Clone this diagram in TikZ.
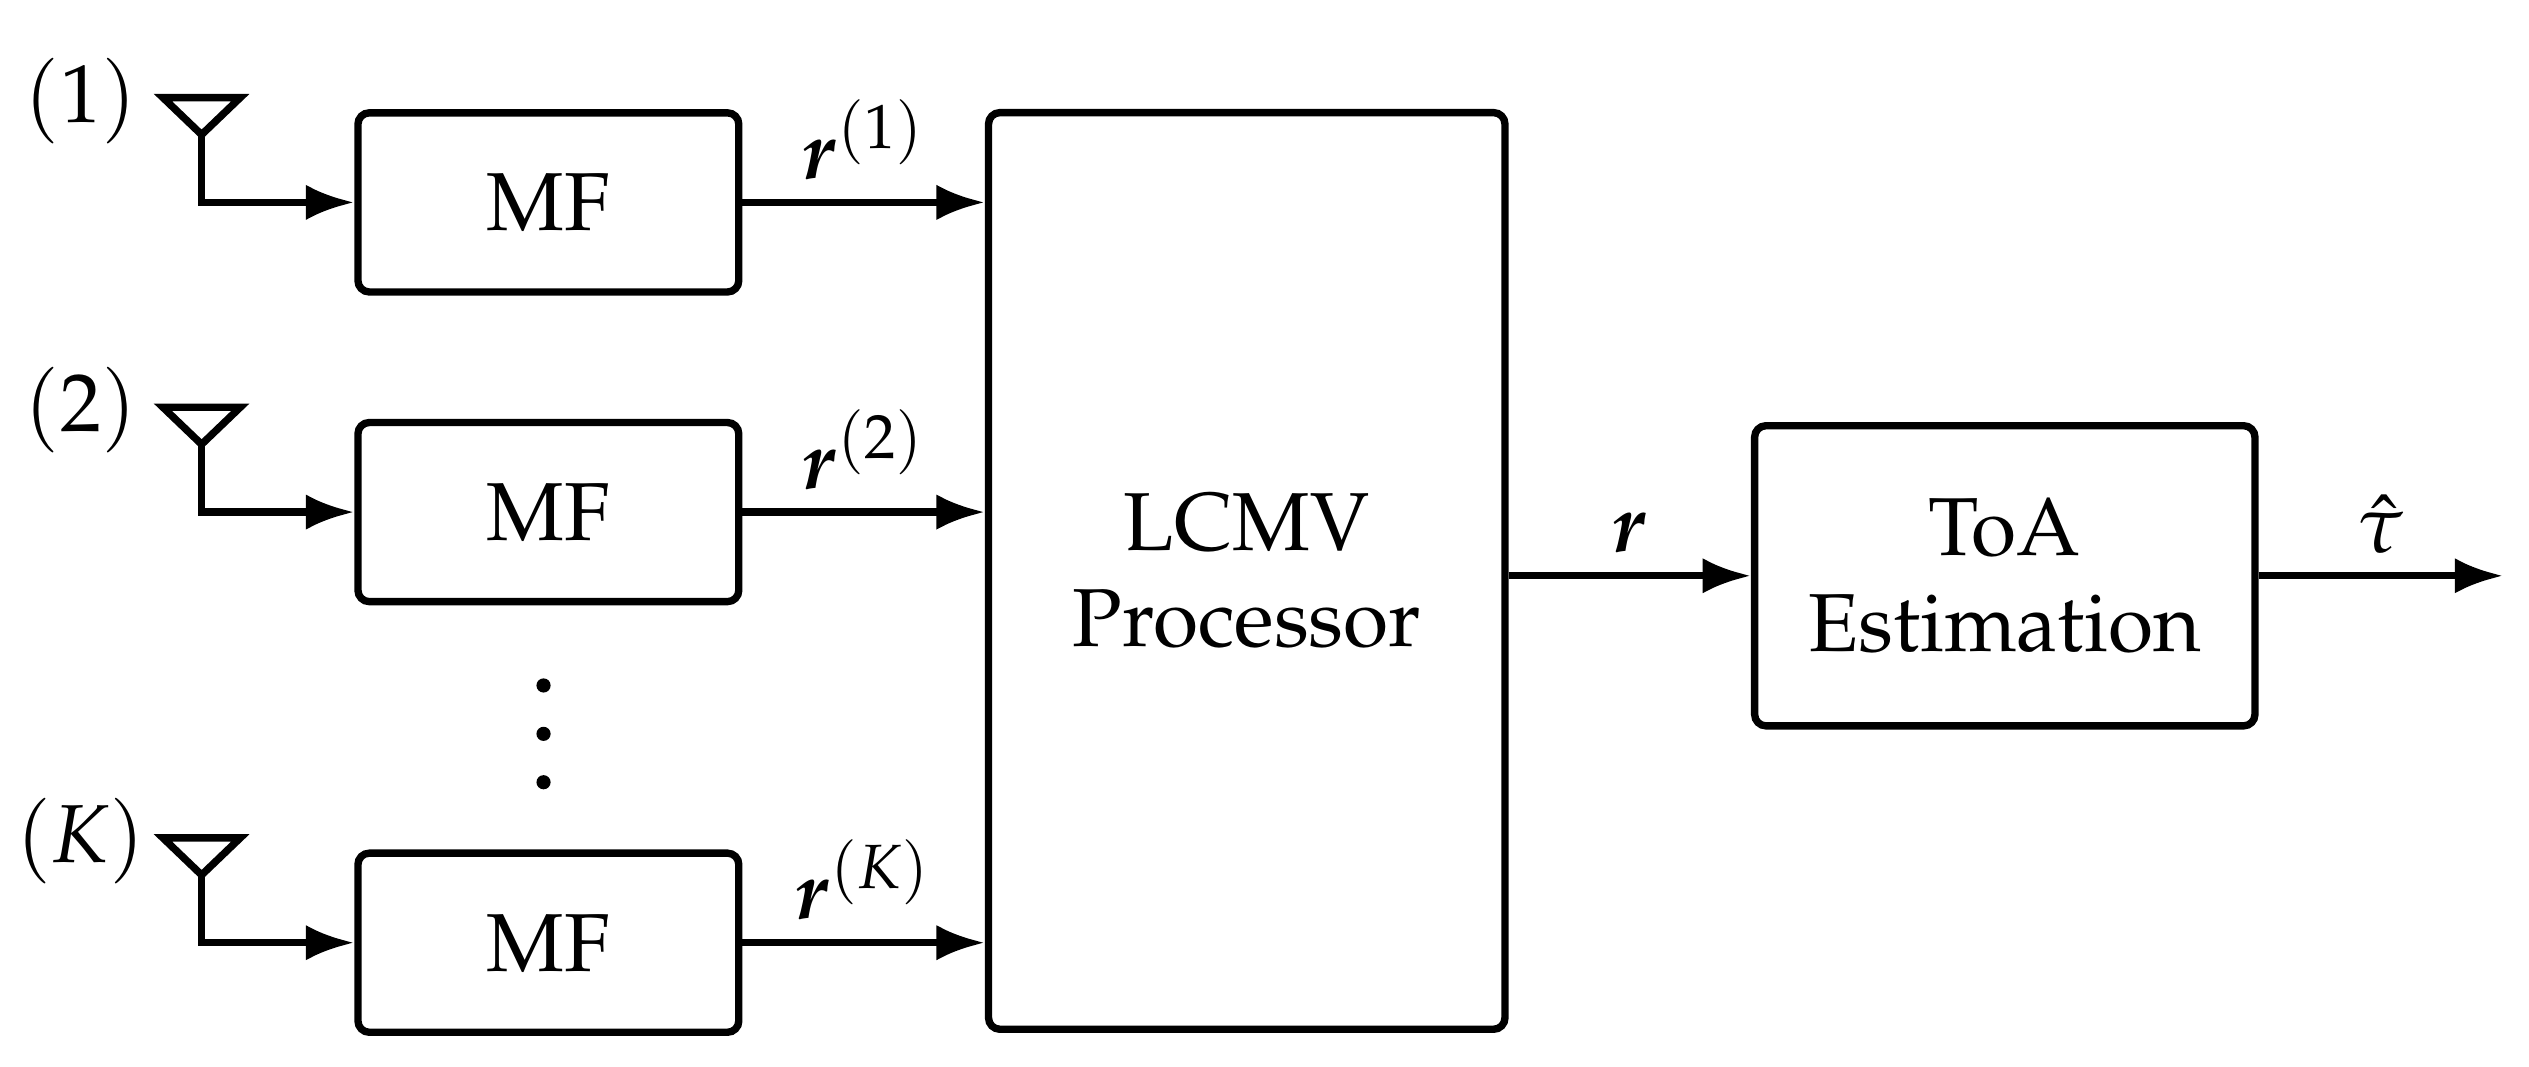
\documentclass[tikz,border=0pt]{standalone}
\usepackage[T1]{fontenc}
\usepackage{mathpazo}
\usepackage{bm}
\usetikzlibrary{positioning,arrows.meta}

\tikzset{
	block/.style={draw, line width=1.3pt, rounded corners=2pt, font=\fontsize{14.5}{17}\selectfont, align=center},
	sig/.style={draw, line width=1.3pt, -{Latex[length=3mm,width=2.2mm]}},
	lbl/.style={font=\fontsize{14.5}{17}\selectfont},
	dot/.style={circle, fill, inner sep=0pt, minimum size=2.5pt}
}

\begin{document}
\begin{tikzpicture}[x=0.01cm, y=-0.01cm]
	\useasboundingbox (0,0) rectangle (1568,661);
	% matched filters
	\node[block, minimum width=2.36cm, minimum height=1.11cm] (mf1) at (340,125.5) {MF};
	\node[block, minimum width=2.36cm, minimum height=1.11cm] (mf2) at (340,317.5) {MF};
	\node[block, minimum width=2.36cm, minimum height=1.11cm] (mfk) at (340,584.5) {MF};
	% beamformer and estimator
	\node[block, minimum width=3.2cm, minimum height=5.68cm] (lcmv) at (773,354) {LCMV\\Processor};
	\node[block, minimum width=3.1cm, minimum height=1.86cm] (toa) at (1243,357) {ToA\\Estimation};
	\coordinate (out) at (1552,357);
	% antennas
	\foreach \n/\y/\t in {1/125.5/(1), 2/317.5/(2), k/584.5/(K)} {
		\coordinate (ant\n) at (125,\y-65);
		\draw[line width=1.3pt] (ant\n) ++(-24,0) -- ++(48,0) -- ++(-24,23) -- cycle;
		\draw[sig] (ant\n) ++(0,23) |- (mf\n.west);
		\node[lbl] (lab\n) at (50,\y-63) {$\t$};
	}
	\foreach \d/\y in {1/425, 2/455, 3/485}
		\node[dot] (dot\d) at (337,\y) {};
	% signals
	\draw[sig] (mf1.east) -- node[lbl, above] {$\bm{r}^{(1)}$} (mf1.east -| lcmv.west);
	\draw[sig] (mf2.east) -- node[lbl, above] {$\bm{r}^{(2)}$} (mf2.east -| lcmv.west);
	\draw[sig] (mfk.east) -- node[lbl, above] {$\bm{r}^{(K)}$} (mfk.east -| lcmv.west);
	\draw[sig] (lcmv.east |- toa.west) -- node[lbl, above] {$\bm{r}$} (toa.west);
	\draw[sig] (toa.east) -- node[lbl, above] {$\hat{\tau}$} (out);
\end{tikzpicture}
\end{document}
